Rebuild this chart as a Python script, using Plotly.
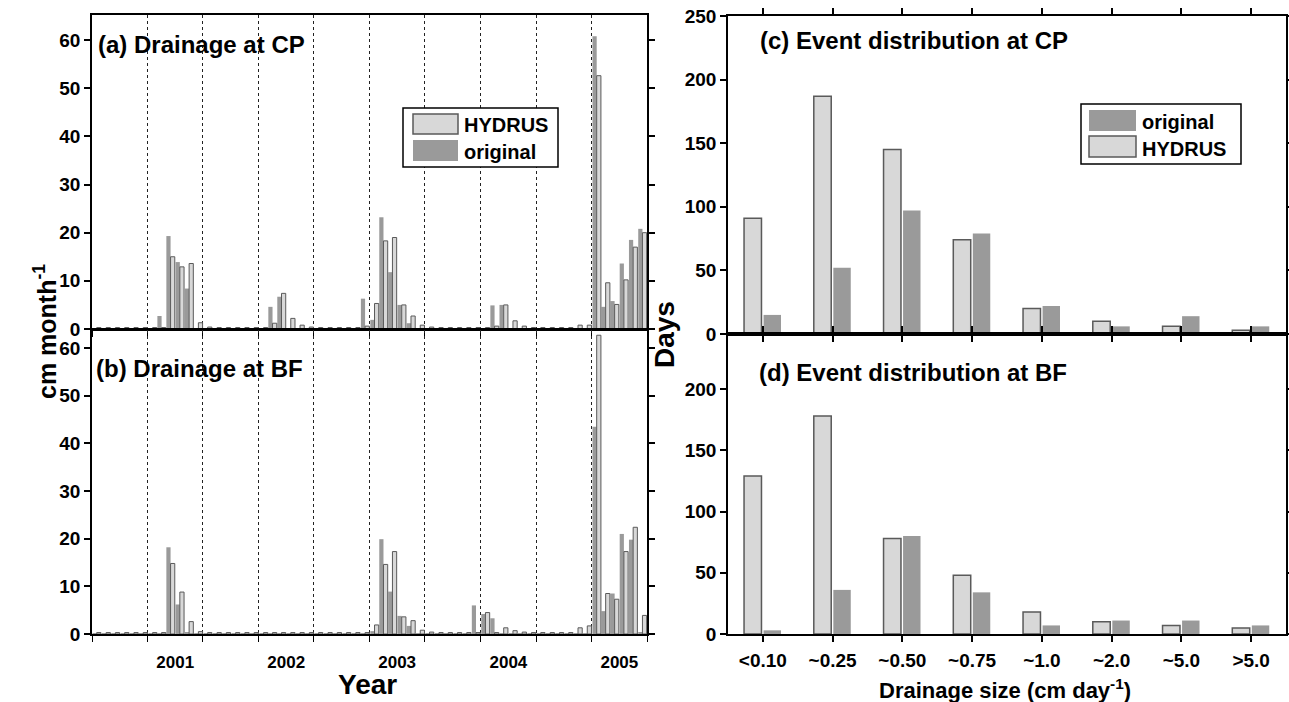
import plotly.graph_objects as go

# ---------------- data ----------------
# monthly axis: Jul 2000 .. Jun 2005
months = [f"{y}-{m:02d}-01" for y in range(2000, 2006) for m in range(1, 13)
          if (2000, 7) <= (y, m) <= (2005, 6)]
year_labels = ["2001", "2002", "2003", "2004", "2005"]
year_label_pos = ["2001-04-01", "2002-04-01", "2003-04-01", "2004-04-01", "2005-04-01"]

# (a) Drainage at CP  (cm month-1)
cp_original = [0.2, 0.2, 0.2, 0.2, 0.2, 0.2,                                   # 2000 Jul-Dec
               0.2, 2.7, 19.3, 13.9, 8.4, 0.2, 0.1, 0.1, 0.1, 0.1, 0.1, 0.1,   # 2001
               0.2, 4.6, 6.7, 0.2, 0.1, 0.1, 0.1, 0.1, 0.1, 0.1, 0.2, 6.3,     # 2002
               1.9, 23.2, 11.8, 5.0, 1.2, 0.1, 0.1, 0.1, 0.1, 0.1, 0.1, 0.2,   # 2003
               0.2, 4.9, 5.0, 0.1, 0.1, 0.1, 0.1, 0.1, 0.1, 0.1, 0.2, 0.2,     # 2004
               60.8, 4.6, 5.8, 13.6, 18.5, 20.8]                               # 2005 Jan-Jun
cp_hydrus = [0.3, 0.3, 0.3, 0.3, 0.3, 0.3,
             0.3, 0.3, 15.0, 12.9, 13.6, 1.3, 0.4, 0.3, 0.3, 0.3, 0.3, 0.3,
             0.3, 1.2, 7.4, 2.2, 0.8, 0.4, 0.3, 0.3, 0.3, 0.3, 0.3, 0.6,
             5.3, 18.3, 19.0, 5.0, 2.7, 0.8, 0.4, 0.3, 0.3, 0.3, 0.3, 0.3,
             0.3, 0.6, 5.0, 1.7, 0.6, 0.3, 0.3, 0.3, 0.3, 0.3, 0.8, 0.8,
             52.6, 9.6, 5.1, 10.2, 17.0, 20.0]

# (b) Drainage at BF
bf_original = [0.2, 0.2, 0.2, 0.2, 0.2, 0.2,
               0.2, 0.2, 18.2, 6.2, 0.3, 0.2, 0.1, 0.1, 0.1, 0.1, 0.1, 0.1,
               0.1, 0.1, 0.1, 0.1, 0.1, 0.1, 0.1, 0.1, 0.1, 0.1, 0.1, 0.1,
               0.6, 19.9, 8.9, 3.8, 1.7, 0.1, 0.1, 0.1, 0.1, 0.1, 0.1, 6.0,
               4.2, 3.3, 0.2, 0.1, 0.1, 0.1, 0.1, 0.1, 0.1, 0.1, 0.2, 0.2,
               43.5, 4.8, 8.5, 21.0, 19.8, 0.3]
bf_hydrus = [0.3, 0.3, 0.3, 0.3, 0.3, 0.3,
             0.3, 0.3, 14.8, 8.8, 2.6, 0.5, 0.3, 0.3, 0.3, 0.3, 0.3, 0.3,
             0.3, 0.3, 0.3, 0.3, 0.3, 0.3, 0.3, 0.3, 0.3, 0.3, 0.3, 0.3,
             1.9, 14.6, 17.3, 3.6, 2.8, 0.8, 0.4, 0.3, 0.3, 0.3, 0.3, 0.3,
             4.5, 0.3, 1.3, 0.7, 0.4, 0.3, 0.3, 0.3, 0.3, 0.3, 1.3, 1.7,
             62.7, 8.5, 7.3, 17.3, 22.4, 3.9]

# (c)/(d) Event distribution (days)
size_classes = ["<0.10", "~0.25", "~0.50", "~0.75", "~1.0", "~2.0", "~5.0", ">5.0"]
cp_days_hydrus = [91, 187, 145, 74, 20, 10, 6, 3]
cp_days_original = [15, 52, 97, 79, 22, 6, 14, 6]
bf_days_hydrus = [129, 178, 78, 48, 18, 10, 7, 5]
bf_days_original = [3, 36, 80, 34, 7, 11, 11, 7]

# ---------------- styles ----------------
W, H = 1289, 702
FONT = "Liberation Sans, Arial, sans-serif"
C_ORIG = "#9a9a9a"
C_HYD = "#d8d8d8"
C_EDGE = "#5a5a5a"


def px(x):
    return x / W


def py(y):
    return 1 - y / H


def bfont(size):
    return dict(family=FONT, size=size, color="black", weight="bold")


fig = go.Figure()

# monthly panels: original (left of each month), HYDRUS (right)
for xa, ya, orig, hyd in [("x", "y", cp_original, cp_hydrus),
                          ("x2", "y2", bf_original, bf_hydrus)]:
    fig.add_trace(go.Bar(x=months, y=orig, name="original", xaxis=xa, yaxis=ya,
                         marker=dict(color=C_ORIG, line=dict(width=0)),
                         xperiod="M1", xperiodalignment="middle", showlegend=False))
    fig.add_trace(go.Bar(x=months, y=hyd, name="HYDRUS", xaxis=xa, yaxis=ya,
                         marker=dict(color=C_HYD, line=dict(width=1, color=C_EDGE)),
                         xperiod="M1", xperiodalignment="middle", showlegend=False))

# event distribution panels: HYDRUS (left), original (right)
for xa, ya, hyd, orig in [("x3", "y3", cp_days_hydrus, cp_days_original),
                          ("x4", "y4", bf_days_hydrus, bf_days_original)]:
    fig.add_trace(go.Bar(x=size_classes, y=hyd, name="HYDRUS", xaxis=xa, yaxis=ya,
                         width=0.25, offset=-0.27,
                         marker=dict(color=C_HYD, line=dict(width=1.5, color=C_EDGE)),
                         showlegend=False))
    fig.add_trace(go.Bar(x=size_classes, y=orig, name="original", xaxis=xa, yaxis=ya,
                         width=0.25, offset=0.01,
                         marker=dict(color=C_ORIG, line=dict(width=0)),
                         showlegend=False))

month_x = dict(type="date", range=["2000-07-01", "2005-07-01"], automargin=False,
               tickmode="array", tickvals=year_label_pos, ticktext=year_labels,
               ticks="", showgrid=False, zeroline=False, ticklabelstandoff=12,
               showline=True, linecolor="black", linewidth=1.5, mirror=True,
               tickfont=bfont(17),
               minor=dict(tickmode="linear", tick0="2001-01-01", dtick="M6",
                          ticks="outside", ticklen=6, tickcolor="black", tickwidth=1,
                          showgrid=True, gridcolor="#222222", griddash="dot", gridwidth=1))

month_y = dict(tickmode="array", tickvals=[0, 10, 20, 30, 40, 50, 60], automargin=False,
               ticks="outside", ticklen=6, tickcolor="black", tickwidth=1.5,
               showgrid=False, zeroline=False, showline=True, linecolor="black",
               linewidth=1.5, mirror="ticks", tickfont=bfont(19))

dist_x = dict(type="category", range=[-0.5, 7.5], ticks="outside", ticklen=6,
              automargin=False, tickcolor="black", tickwidth=1.5, showgrid=False,
              zeroline=False, showline=True, linecolor="black", linewidth=1.5,
              mirror="ticks", tickfont=bfont(19), ticklabelstandoff=2)
dist_y = dict(ticks="outside", ticklen=6, tickcolor="black", tickwidth=1.5,
              automargin=False, showgrid=False, zeroline=False, showline=True,
              linecolor="black", linewidth=1.5, mirror="ticks", tickfont=bfont(19))

fig.update_layout(
    width=W, height=H, margin=dict(l=0, r=0, t=0, b=0),
    paper_bgcolor="white", plot_bgcolor="rgba(0,0,0,0)",
    font=dict(family=FONT, color="black", weight="bold"),
    barmode="group", bargap=0.06, bargroupgap=0.0, showlegend=False,
    xaxis=dict(month_x, domain=[px(92), px(647)], anchor="y", showticklabels=False),
    yaxis=dict(month_y, domain=[py(329), py(15)], anchor="x", range=[0, 65.2]),
    xaxis2=dict(month_x, domain=[px(92), px(647)], anchor="y2"),
    yaxis2=dict(month_y, domain=[py(634), py(330)], anchor="x2", range=[0, 63.8]),
    xaxis3=dict(dist_x, domain=[px(728), px(1286)], anchor="y3", showticklabels=False),
    yaxis3=dict(dist_y, domain=[py(334), py(16)], anchor="x3", range=[0, 250],
                tickvals=[0, 50, 100, 150, 200, 250]),
    xaxis4=dict(dist_x, domain=[px(728), px(1286)], anchor="y4"),
    yaxis4=dict(dist_y, domain=[py(634), py(334)], anchor="x4", range=[0, 244.9],
                tickvals=[0, 50, 100, 150, 200]),
)

# ---- legends drawn as boxes + text (paper coords) ----
shapes = []


def rect(x0, y0, x1, y1, fill, line_color=None, lw=0):
    shapes.append(dict(type="rect", xref="paper", yref="paper",
                       x0=px(x0), x1=px(x1), y0=py(y1), y1=py(y0),
                       fillcolor=fill, line=dict(color=line_color or fill, width=lw)))


def label(text, x, y, size, xanchor="left", angle=0):
    fig.add_annotation(text=text, x=px(x), y=py(y), xref="paper", yref="paper",
                       xanchor=xanchor, yanchor="middle", showarrow=False,
                       textangle=angle, font=bfont(size))


# legend (a)
rect(403, 108, 558, 167, "white", "black", 1.5)
rect(413, 114, 458, 134, C_HYD, C_EDGE, 1.5)
rect(413, 140, 458, 161, C_ORIG, C_ORIG, 0)
label("HYDRUS", 462, 125, 20)
label("original", 462, 152, 20)
# legend (c)
rect(1081, 104, 1241, 164, "white", "black", 1.5)
rect(1089, 110, 1136, 131, C_ORIG, C_ORIG, 0)
rect(1089, 136, 1136, 157, C_HYD, C_EDGE, 1.5)
label("original", 1140, 122, 20)
label("HYDRUS", 1140, 149, 20)

fig.update_layout(shapes=shapes)

# panel titles and axis titles
label("(a) Drainage at CP", 96, 45, 24)
label("(b) Drainage at BF", 94, 368, 24)
label("(c) Event distribution at CP", 758, 41, 24)
label("(d) Event distribution at BF", 757, 372, 24)
label("Year", 367, 684, 28, xanchor="center")
label("Drainage size (cm day<sup>-1</sup>)", 1005, 689, 22, xanchor="center")
label("cm month<sup>-1</sup>", 45, 332, 25, xanchor="center", angle=-90)
label("Days", 665, 335, 28, xanchor="center", angle=-90)

# remove the default page margin so the 1289x702 figure fills the window exactly
fig.write_html("out.html", config={"displayModeBar": False},
               post_script="document.body.style.margin='0px';"
                           "document.body.style.overflow='hidden';")
